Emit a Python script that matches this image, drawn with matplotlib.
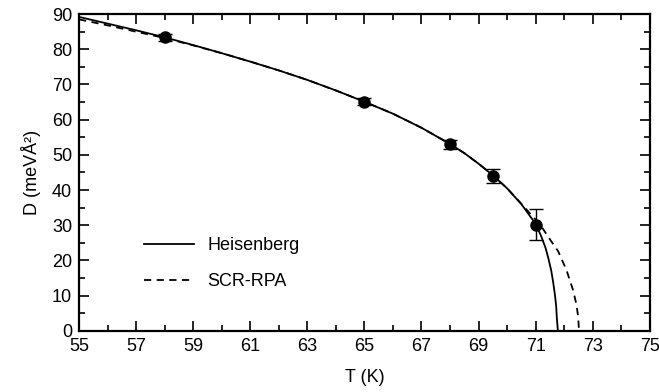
import matplotlib
matplotlib.use("Agg")
import matplotlib.pyplot as plt
from matplotlib.ticker import MultipleLocator

plt.rcParams['font.family'] = ['Liberation Sans', 'DejaVu Sans']

# measured data
T_data = [58.0, 65.0, 68.0, 69.5, 71.0]
D_data = [83.4, 65.1, 53.0, 44.0, 30.2]
D_err = [1.0, 1.0, 1.3, 1.9, 4.5]

# Heisenberg curve
T_heis = [55, 56, 57, 58, 59, 60, 61, 62, 63, 64, 65, 66, 67, 68, 68.5, 69, 69.5,
          70, 70.5, 71.0, 71.2, 71.35, 71.45, 71.55, 71.62, 71.68, 71.72, 71.74, 71.78]
D_heis = [89.2, 87.3, 85.4, 83.4, 81.2, 78.9, 76.5, 74.0, 71.3, 68.3, 65.1, 61.7, 57.7,
          53.1, 50.5, 47.5, 44.2, 40.5, 36.0, 30.4, 26.8, 23.5, 20.5, 17.0, 13.5, 10.0,
          7.0, 4.0, 0.0]

# SCR-RPA curve
T_scr = [55, 56, 57, 58, 59, 60, 61, 62, 63, 64, 65, 66, 67, 68, 68.5, 69, 69.5,
         70, 70.5, 70.8, 71.0, 71.15, 71.32, 71.5, 71.79, 72.08, 72.31, 72.43, 72.49, 72.52]
D_scr = [88.5, 86.8, 85.0, 83.2, 81.1, 78.9, 76.5, 74.0, 71.3, 68.3, 65.1, 61.7, 57.7,
         53.1, 50.5, 47.5, 44.2, 40.5, 36.1, 33.4, 31.6, 30.3, 28.2, 26.0, 22.6, 17.3,
         11.6, 7.5, 4.0, 0.0]

x_ticks = [55, 57, 59, 61, 63, 65, 67, 69, 71, 73, 75]
y_ticks = [0, 10, 20, 30, 40, 50, 60, 70, 80, 90]

fig = plt.figure(figsize=(6.59, 3.92), dpi=100)
ax = fig.add_axes([0.12, 0.156, 0.866, 0.808])

ax.plot(T_heis, D_heis, color='black', lw=1.3, ls='-', label='Heisenberg')
ax.plot(T_scr, D_scr, color='black', lw=1.3, ls=(0, (4, 3)), label='SCR-RPA')
ax.errorbar(T_data, D_data, yerr=D_err, fmt='o', color='black', ms=8,
            elinewidth=1.0, capsize=5, capthick=1.0)

ax.set_xlim(55, 75)
ax.set_ylim(0, 90)
ax.set_xticks(x_ticks)
ax.set_yticks(y_ticks)
ax.xaxis.set_minor_locator(MultipleLocator(1))
ax.yaxis.set_minor_locator(MultipleLocator(5))
ax.tick_params(which='both', direction='in', top=True, right=True, labelsize=13, width=1.2)
ax.tick_params(which='major', length=7, pad=5)
ax.tick_params(which='minor', length=4)
for s in ax.spines.values():
    s.set_linewidth(1.6)

ax.set_xlabel('T (K)', fontsize=13, labelpad=10)
ax.set_ylabel('D (meVÅ²)', fontsize=13, labelpad=8)

ax.legend(loc='lower left', bbox_to_anchor=(0.085, 0.077), frameon=False, fontsize=13,
          handlelength=2.8, handletextpad=0.7, labelspacing=1.05)

fig.savefig('out.png', dpi=100)
